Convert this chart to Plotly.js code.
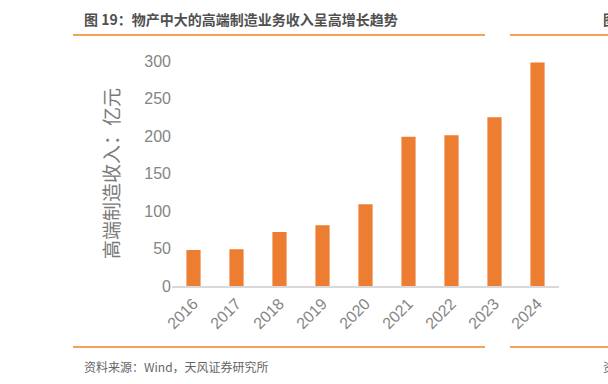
<!DOCTYPE html>
<html>
<head>
<meta charset="utf-8">
<script src="https://cdn.plot.ly/plotly-3.0.1.min.js"></script>
<style>html,body{margin:0;padding:0;background:#fff;}#chart{width:608px;height:384px;}</style>
</head>
<body>
<div id="chart"></div>
<script>
const years = ['2016','2017','2018','2019','2020','2021','2022','2023','2024'];
const revenue = [48, 49, 72, 81, 109, 199, 201, 225, 298];
const titleText = '图 19：物产中大的高端制造业务收入呈高增长趋势';
const yTitle = '高端制造收入：亿元';
const sourceText = '资料来源：Wind，天风证券研究所';

const W = 608, H = 384;
const L = 172, R = 559, T = 61, B = 286;
const px = x => (x - L) / (R - L);
const py = y => (B - y) / (B - T);
const cjk = '"Noto Sans CJK SC", "Microsoft YaHei", sans-serif';
const numFont = '"Liberation Sans", Arial, sans-serif';
const lineColor = '#F4A15A';
const tickColor = '#858585';

const trace = {
  type: 'bar',
  x: years,
  y: revenue,
  marker: {color: '#ED7D31'},
  width: 0.33,
  hoverinfo: 'x+y'
};

const layout = {
  width: W, height: H,
  margin: {l: L, r: W - R, t: T, b: H - B, pad: 0},
  paper_bgcolor: '#fff', plot_bgcolor: '#fff',
  showlegend: false,
  xaxis: {
    type: 'category',
    showgrid: false, zeroline: false,
    showline: true, linecolor: '#D9D9D9', linewidth: 2,
    ticks: '', tickangle: -45,
    tickfont: {family: numFont, size: 16, color: tickColor},
    automargin: false
  },
  yaxis: {
    range: [0, 300], dtick: 50,
    showgrid: false, zeroline: false, showline: false,
    ticks: '', ticklen: 0,
    tickfont: {family: numFont, size: 16, color: tickColor},
    automargin: false
  },
  shapes: [
    {type: 'line', xref: 'paper', yref: 'paper', x0: px(73), x1: px(485), y0: py(35), y1: py(35), line: {color: lineColor, width: 2}},
    {type: 'line', xref: 'paper', yref: 'paper', x0: px(510), x1: px(620), y0: py(35), y1: py(35), line: {color: lineColor, width: 2}},
    {type: 'line', xref: 'paper', yref: 'paper', x0: px(73), x1: px(485), y0: py(347), y1: py(347), line: {color: lineColor, width: 2}},
    {type: 'line', xref: 'paper', yref: 'paper', x0: px(510), x1: px(620), y0: py(347), y1: py(347), line: {color: lineColor, width: 2}}
  ],
  annotations: [
    {text: yTitle, xref: 'paper', yref: 'paper', x: px(110), y: py(174), xanchor: 'center', yanchor: 'middle', textangle: -90, showarrow: false,
     font: {family: cjk, size: 19, color: '#7a7a7a'}},
    {text: titleText, xref: 'paper', yref: 'paper', x: px(82), y: py(19), xanchor: 'left', yanchor: 'middle', showarrow: false,
     font: {family: cjk, size: 14, color: '#505050', weight: 600}},
    {text: sourceText, xref: 'paper', yref: 'paper', x: px(82), y: py(366), xanchor: 'left', yanchor: 'middle', showarrow: false,
     font: {family: cjk, size: 12, color: '#666666'}},
    {text: '图', xref: 'paper', yref: 'paper', x: px(601), y: py(19), xanchor: 'left', yanchor: 'middle', showarrow: false,
     font: {family: cjk, size: 14, color: '#505050', weight: 600}},
    {text: '资', xref: 'paper', yref: 'paper', x: px(601), y: py(366), xanchor: 'left', yanchor: 'middle', showarrow: false,
     font: {family: cjk, size: 12, color: '#666666'}}
  ]
};

Plotly.newPlot('chart', [trace], layout, {displayModeBar: false, staticPlot: true});
</script>
</body>
</html>
